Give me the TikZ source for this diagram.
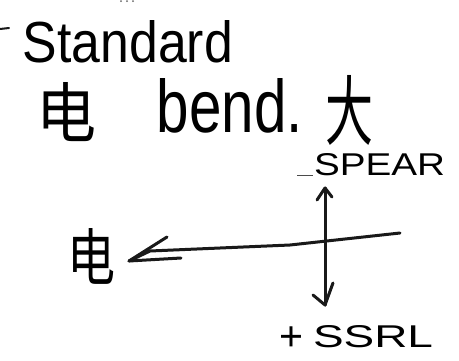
\documentclass[tikz,border=0pt]{standalone}
\usepackage{fontspec}
\setmainfont{Liberation Sans}
\newfontfamily\cjk{Noto Sans CJK SC}
\begin{document}
\begin{tikzpicture}[x=1pt,y=-1pt, line cap=round, line join=round,
  lbl/.style={inner sep=0pt, outer sep=0pt, anchor=north west},
  ink/.style={draw=black!90, line width=3pt}]
\useasboundingbox (0,0) rectangle (459,360);
\fill[white] (0,0) rectangle (459,360);
% top fragments
\draw[ink, line width=2pt] (0,29) -- (9,28);
\fill[black!60] (121,1) circle (1pt) (127,1) circle (1pt) (133,1) circle (1pt);
% texts
\node[lbl] (std)   at (23,20)  {\resizebox{210pt}{42pt}{Standard}};
\node[lbl] (e1)    at (37,82)  {\resizebox{60pt}{55pt}{\cjk 电}};
\node[lbl] (bend)  at (157,78) {\resizebox{146pt}{54pt}{bend.}};
\node[lbl] (da)    at (325,75) {\resizebox{48pt}{64pt}{\cjk 大}};
\node[lbl] (minus) at (297,175) {\resizebox{16pt}{3pt}{–}};
\node[lbl] (spear) at (314,153) {\resizebox{131pt}{22pt}{SPEAR}};
\node[lbl] (e2)    at (67,228) {\resizebox{48pt}{52pt}{\cjk 电}};
\node[lbl, anchor=center] (plus) at (291,339) {\resizebox{24pt}{!}{+}};
\node[lbl] (ssrl)  at (313,325) {\resizebox{120pt}{22pt}{SSRL}};
% horizontal arrow
\coordinate (hR) at (400,233);
\coordinate (hM) at (290,245);
\coordinate (hN) at (150,251);
\coordinate (hL) at (129,261);
\coordinate (hU) at (167,237);
\coordinate (hD) at (181,258);
\draw[ink] (hR) -- (hM) -- (hN) -- (hL);
\draw[ink] (hU) -- (hL) -- (hD);
% vertical double arrow
\coordinate (vT) at (325,188);
\coordinate (vB) at (325,305);
\draw[ink] (vT) -- (vB);
\draw[ink] (317,200) -- (vT) -- (332,197);
\draw[ink] (313,295) -- (vB) -- (333,283);
\end{tikzpicture}
\end{document}
